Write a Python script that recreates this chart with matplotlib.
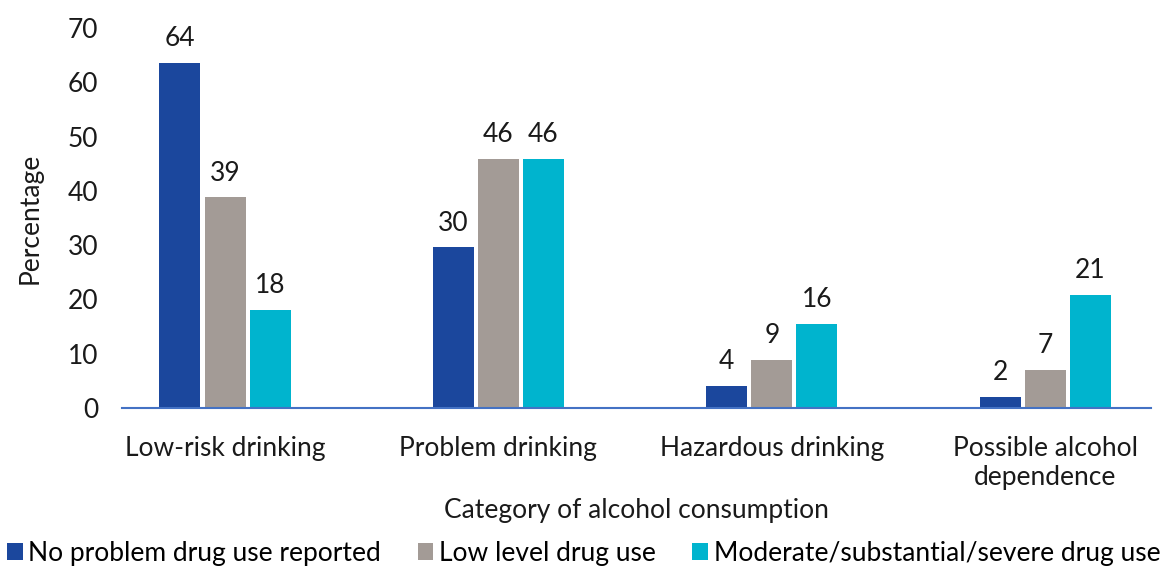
import matplotlib
matplotlib.use("Agg")
import matplotlib.pyplot as plt
import numpy as np

categories = ["Low-risk drinking", "Problem drinking", "Hazardous drinking", "Possible alcohol\ndependence"]
series_names = ["No problem drug use reported", "Low level drug use", "Moderate/substantial/severe drug use"]
no_problem = [63.5, 29.6, 4.1, 2.0]
low_level = [38.8, 45.9, 8.8, 7.0]
moderate = [18.0, 45.9, 15.5, 20.8]
colors = ["#1B479D", "#A39B96", "#00B4CE"]

plt.rcParams['font.family'] = ['Lato', 'DejaVu Sans']
fs = 19

fig = plt.figure(figsize=(11.67, 5.68), dpi=100)
ax = fig.add_axes([0.1045, 0.2817, 0.882, 0.669])

x = np.arange(len(categories))
step = 0.165
width = 0.15
for i, (vals, name, c) in enumerate(zip([no_problem, low_level, moderate], series_names, colors)):
    bars = ax.bar(x + (i - 1) * step, vals, width, color=c, label=name, zorder=2)
    for b, v in zip(bars, vals):
        ax.annotate(f"{round(v)}", (b.get_x() + b.get_width() / 2, v), xytext=(0, 8.5),
                    textcoords="offset points", ha="center", va="bottom", fontsize=fs, color="#1a1a1a")

ax.set_ylim(0, 70)
ax.set_xlim(-0.377, 3.388)
ax.set_yticks(range(0, 71, 10))
ax.set_xticks(x)
ax.set_xticklabels(categories)
for s in ["top", "right", "left"]:
    ax.spines[s].set_visible(False)
ax.spines["bottom"].set_color("#4472C4")
ax.spines["bottom"].set_linewidth(1.5)
ax.tick_params(axis="both", length=0, labelsize=fs, colors="#1a1a1a")
ax.tick_params(axis="x", pad=20)
ax.tick_params(axis="y", pad=17)
ax.set_ylabel("Percentage", fontsize=fs, color="#1a1a1a", labelpad=18)
ax.set_xlabel("Category of alcohol consumption", fontsize=fs, color="#1a1a1a", labelpad=6)

fig.legend(loc="lower center", bbox_to_anchor=(0.5, -0.015), ncol=3, frameon=False, fontsize=fs,
           handlelength=0.6, handleheight=0.6, handletextpad=0.2, columnspacing=1.4, borderaxespad=0)

fig.savefig("out.png", dpi=100)
